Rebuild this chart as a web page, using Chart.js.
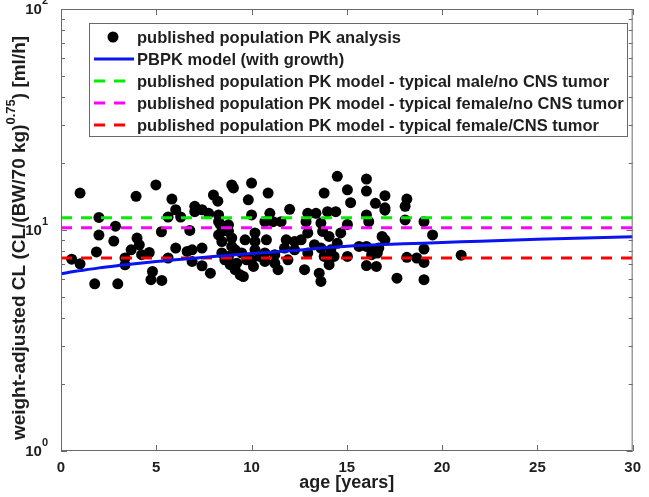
<!DOCTYPE html>
<html>
<head>
<meta charset="utf-8">
<script src="https://cdn.jsdelivr.net/npm/chart.js@4.4.1/dist/chart.umd.min.js"></script>
<style>
  html, body { margin: 0; padding: 0; background: #fff; }
  canvas { display: block; }
</style>
</head>
<body>
<canvas id="chart" width="649" height="497"></canvas>
<script>
// published population PK analysis (age [years], weight-adjusted CL)
const obsAge = [
  0.56, 1.00, 1.00, 1.77, 1.86, 1.99, 1.99, 2.77, 2.86, 2.98, 3.36, 3.36, 3.94, 3.99, 4.11, 3.68,
  4.23, 4.63, 4.80, 4.72, 4.98, 5.27, 5.29, 5.62, 5.82, 5.62, 6.02, 6.02, 6.28, 6.62, 6.76,
  7.02, 7.40, 8.00, 8.23, 7.02, 7.75, 8.27, 8.36, 8.44, 8.27, 8.79, 8.96, 8.44, 8.96, 9.05, 10.00,
  9.83, 10.00, 10.18, 10.18, 9.66, 10.87, 10.96, 10.70, 11.13, 10.78, 12.00, 11.82, 12.26, 12.95, 13.38,
  13.81, 13.99, 14.42, 14.50, 15.03, 15.20, 12.86, 12.95, 13.64, 13.73, 14.07, 14.68, 12.60, 13.30, 13.64,
  14.16, 14.50, 6.88, 7.40, 8.44, 8.79, 9.14, 9.48, 10.18, 10.70, 11.22, 11.73, 12.26, 12.95, 13.81,
  15.03, 6.88, 7.40, 7.84, 8.60, 8.88, 9.14, 9.40, 9.57, 10.10, 10.70, 11.22, 11.39, 11.91, 12.78,
  13.55, 13.64, 14.07, 14.33, 10.00, 9.22, 8.27, 8.79, 8.96, 9.74, 10.44, 15.03, 11.55,
  16.03, 16.03, 16.50, 17.00, 17.00, 17.00, 18.15, 18.06, 16.03, 16.15, 18.06, 19.05, 19.50, 16.85,
  17.00, 15.64, 16.03, 16.40, 16.68, 19.05, 16.30, 16.60, 18.15, 18.67, 19.05, 21.00, 16.03, 16.55,
  17.63, 19.05
];
const obsCL = [
  7.38, 14.7, 7.03, 5.71, 7.96, 11.4, 9.49, 8.91, 10.4, 5.71, 7.47, 6.96, 14.2, 9.19, 8.57, 8.13,
  7.73, 7.91, 6.49, 5.96, 16.0, 9.82, 5.91, 7.47, 13.8, 11.45, 12.35, 8.28, 11.45, 8.0, 9.95,
  12.8, 12.35, 14.4, 13.5, 12.1, 11.9, 11.7, 10.6, 9.85, 9.5, 9.85, 9.2, 8.87, 16.0, 15.5, 16.3,
  13.7, 11.7, 9.7, 8.88, 9.03, 14.7, 11.9, 10.9, 10.9, 9.03, 12.4, 9.03, 8.87, 11.9, 11.9,
  14.7, 12.1, 12.1, 17.5, 15.2, 13.3, 10.9, 9.7, 10.75, 9.85, 9.35, 9.7, 9.03, 8.58, 8.28,
  8.13, 8.7, 8.13, 8.28, 7.87, 7.59, 8.13, 7.87, 8.13, 7.87, 7.73, 8.28, 8.13, 7.87, 7.59,
  7.59, 7.21, 6.89, 6.38, 7.33, 6.97, 6.61, 6.27, 6.16, 6.84, 7.21, 7.08, 6.61, 7.33, 6.61,
  6.38, 5.85, 6.97, 7.59, 7.33, 7.08, 10.9, 10.55, 8.43, 7.33, 7.59, 10.6, 10.9,
  17.0, 15.0, 13.2, 14.3, 12.6, 12.3, 13.8, 12.8, 11.7, 10.9, 11.1, 10.9, 9.5, 9.35,
  9.03, 8.43, 8.43, 8.13, 8.28, 8.2, 7.73, 7.87, 7.52, 7.47, 7.13, 7.69, 6.9, 6.84,
  6.05, 5.96
];

// PBPK model (with growth)
const pbpkAge = [0, 0.5, 1, 2, 3, 4, 5, 6, 8, 10, 12, 14, 16, 18, 20, 22, 25, 30];
const pbpkCL = [6.34, 6.45, 6.55, 6.74, 6.9, 7.05, 7.2, 7.33, 7.58, 7.82, 8.05, 8.33, 8.52, 8.66, 8.78, 8.9, 9.08, 9.31];

// published population PK model, typical values (constant over age)
const popAge = [0, 30];
const popMaleNoCns = 11.35;
const popFemaleNoCns = 10.25;
const popFemaleCns = 7.46;

const xTicks = [0, 5, 10, 15, 20, 25, 30];
const yDecades = [1, 10, 100];
const legendLabels = [
  'published population PK analysis',
  'PBPK model (with growth)',
  'published population PK model - typical male/no CNS tumor',
  'published population PK model - typical female/no CNS tumor',
  'published population PK model - typical female/CNS tumor'
];

const FONT = '"Liberation Sans", Arial, Helvetica, sans-serif';
const INK = '#1e1e1e';
const FRAME = '#6a6a6a';

const pts = (xs, ys) => xs.map((x, i) => ({ x, y: ys[i] }));
const flat = v => popAge.map(x => ({ x, y: v }));

const dashed = (label, data, color) => ({
  type: 'line', label, data,
  borderColor: color, borderWidth: 3, borderDash: [11, 9],
  pointRadius: 0, fill: false, order: 2
});

// frame, inward ticks, log labels, y title and legend
const decorations = {
  id: 'decorations',
  afterDatasetsDraw(chart) {
    const { ctx, chartArea: a, scales: { x, y } } = chart;
    ctx.save();
    ctx.strokeStyle = FRAME;
    ctx.lineWidth = 1;
    ctx.strokeRect(a.left + 0.5, a.top + 0.5, a.right - a.left - 1, a.bottom - a.top - 1);

    ctx.beginPath();
    xTicks.forEach(t => {
      const px = Math.round(x.getPixelForValue(t)) + 0.5;
      ctx.moveTo(px, a.bottom); ctx.lineTo(px, a.bottom - 6);
      ctx.moveTo(px, a.top); ctx.lineTo(px, a.top + 6);
    });
    for (let d = 1; d < 100; d *= 10) {
      for (let m = 1; m <= 10; m++) {
        const py = Math.round(y.getPixelForValue(d * m)) + 0.5;
        const len = (m === 1 || m === 10) ? 6 : 4;
        ctx.moveTo(a.left, py); ctx.lineTo(a.left + len, py);
        ctx.moveTo(a.right, py); ctx.lineTo(a.right - len, py);
      }
    }
    ctx.stroke();

    // y tick labels 10^n
    ctx.fillStyle = INK;
    ctx.textBaseline = 'middle';
    yDecades.forEach(v => {
      const py = y.getPixelForValue(v);
      const exp = String(Math.round(Math.log10(v)));
      ctx.font = 'bold 11px ' + FONT;
      const ew = ctx.measureText(exp).width;
      ctx.textAlign = 'left';
      const right = a.left - 13;
      ctx.fillText(exp, right - ew, py - 8);
      ctx.font = 'bold 15px ' + FONT;
      ctx.textAlign = 'right';
      ctx.fillText('10', right - ew, py + 1);
    });

    // y axis title with superscript
    ctx.save();
    ctx.translate(20, (a.top + a.bottom) / 2 + 8);
    ctx.rotate(-Math.PI / 2);
    const main = 'weight-adjusted CL (CL/(BW/70 kg)';
    const sup = '0.75';
    const tail = ') [ml/h]';
    const big = 'bold 19px ' + FONT, small = 'bold 13px ' + FONT;
    ctx.font = big; const w1 = ctx.measureText(main).width, w3 = ctx.measureText(tail).width;
    ctx.font = small; const w2 = ctx.measureText(sup).width;
    let sx = -(w1 + w2 + w3) / 2;
    ctx.textAlign = 'left';
    ctx.font = big; ctx.fillText(main, sx, 0); sx += w1;
    ctx.font = small; ctx.fillText(sup, sx, -9); sx += w2;
    ctx.font = big; ctx.fillText(tail, sx, 0);
    ctx.restore();

    // legend
    const lx = 89, ly = 23, lw = 538, lh = 113;
    ctx.fillStyle = '#fff';
    ctx.fillRect(lx, ly, lw, lh);
    ctx.strokeStyle = FRAME;
    ctx.strokeRect(lx + 0.5, ly + 0.5, lw, lh);
    const styles = chart.data.datasets;
    legendLabels.forEach((txt, i) => {
      const ry = 37 + i * 22;
      const ds = styles[i];
      if (i === 0) {
        ctx.fillStyle = '#000';
        ctx.beginPath(); ctx.arc(113, ry, 5.5, 0, Math.PI * 2); ctx.fill();
      } else {
        ctx.strokeStyle = ds.borderColor;
        ctx.lineWidth = 3;
        ctx.setLineDash(ds.borderDash || []);
        ctx.beginPath(); ctx.moveTo(94, ry); ctx.lineTo(134, ry); ctx.stroke();
        ctx.setLineDash([]);
      }
      ctx.fillStyle = INK;
      ctx.font = 'bold 16.5px ' + FONT;
      ctx.textAlign = 'left';
      ctx.textBaseline = 'middle';
      ctx.fillText(txt, 137, ry + 1);
    });
    ctx.restore();
  }
};

new Chart(document.getElementById('chart'), {
  type: 'scatter',
  data: {
    datasets: [
      {
        label: legendLabels[0], data: pts(obsAge, obsCL),
        backgroundColor: '#000', borderColor: '#000', borderWidth: 0,
        pointRadius: 5.5, order: 10
      },
      {
        type: 'line', label: legendLabels[1], data: pts(pbpkAge, pbpkCL),
        borderColor: '#0a14f0', borderWidth: 3, pointRadius: 0, tension: 0.3,
        fill: false, order: 1
      },
      dashed(legendLabels[2], flat(popMaleNoCns), '#00ee00'),
      dashed(legendLabels[3], flat(popFemaleNoCns), '#ff00ff'),
      dashed(legendLabels[4], flat(popFemaleCns), '#ff0000')
    ]
  },
  options: {
    responsive: false,
    devicePixelRatio: 1,
    animation: false,
    layout: { padding: { left: 0, right: 11, top: 9, bottom: 0 } },
    plugins: { legend: { display: false }, tooltip: { enabled: false } },
    scales: {
      x: {
        type: 'linear', min: 0, max: 30,
        grid: { display: false, drawTicks: false },
        border: { display: false },
        ticks: { stepSize: 5, padding: 8, color: INK, font: { family: FONT, size: 15, weight: 'bold' } },
        title: { display: true, text: 'age [years]', color: INK, padding: { top: 2, bottom: 3 },
                 font: { family: FONT, size: 18, weight: 'bold' } },
        afterFit: s => { s.height = 46; }
      },
      y: {
        type: 'logarithmic', min: 1, max: 100,
        grid: { display: false, drawTicks: false },
        border: { display: false },
        ticks: { display: false },
        afterFit: s => { s.width = 61; }
      }
    }
  },
  plugins: [decorations]
});
</script>
</body>
</html>
